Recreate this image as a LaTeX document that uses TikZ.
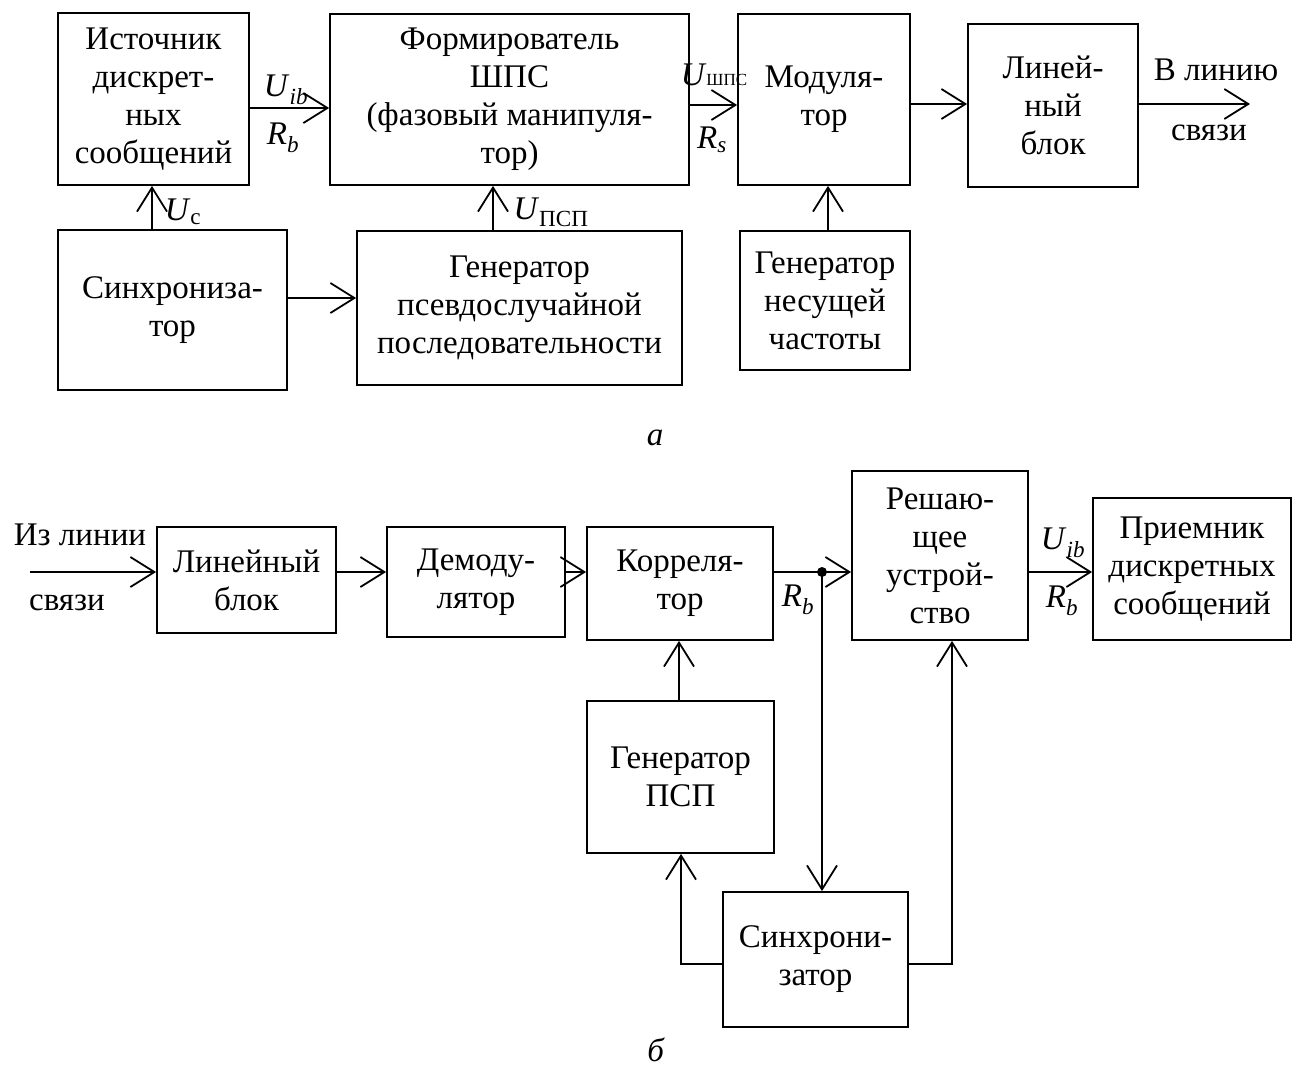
\documentclass[tikz,border=0pt]{standalone}
\usepackage{fontspec}
\setmainfont{Liberation Serif}
\usetikzlibrary{arrows.meta}
\begin{document}
\begin{tikzpicture}[x=1pt,y=-1pt,
  every node/.style={font=\fontsize{33}{38}\selectfont},
  blk/.style={draw,line width=1.8pt,inner sep=0pt,align=center},
  lbl/.style={inner sep=0pt},
  wire/.style={line width=1.8pt},
  arr/.style={wire,-{Straight Barb[length=24pt,width=30pt,line width=1.8pt]}}]
\useasboundingbox (0,0) rectangle (1298,1071);
% box: name, left, top, right, bottom, text
\newcommand\blockbox[6]{%
  \node[blk,minimum width=#4-#2,minimum height=#5-#3] (#1) at ({(#2+#4)/2},{(#3+#5)/2}) {#6};}
\newcommand\sub[1]{\textsubscript{#1}}
% ---- transmitter ----
\blockbox{src}{58}{13}{249}{185}{Источник\\дискрет-\\ных\\сообщений}
\blockbox{form}{330}{14}{689}{185}{Формирователь\\ШПС\\(фазовый манипуля-\\тор)}
\blockbox{mod}{738}{14}{910}{185}{Модуля-\\тор}
\blockbox{lin}{968}{24}{1138}{187}{Линей-\\ный\\блок}
\blockbox{sync}{58}{230}{287}{390}{Синхрониза-\\тор}
\blockbox{gen}{357}{231}{682}{385}{Генератор\\псевдослучайной\\последовательности}
\blockbox{car}{740}{231}{910}{370}{Генератор\\несущей\\частоты}
\coordinate (out) at (1250,104);
\draw[arr] (src.east |- 0,108) -- (form.west |- 0,108);
\draw[arr] (form.east |- 0,105) -- (mod.west |- 0,105);
\draw[arr] (mod.east |- 0,104) -- (lin.west |- 0,104);
\draw[arr] (lin.east |- out) -- (out);
\draw[arr] (sync.north -| 152,0) -- (src.south -| 152,0);
\draw[arr] (sync.east |- 0,298) -- (gen.west |- 0,298);
\draw[arr] (gen.north -| 493,0) -- (form.south -| 493,0);
\draw[arr] (car.north -| 828,0) -- (mod.south -| 828,0);
\node[lbl] (l1) at (286,90) {\textit{U}\sub{\textit{ib}}};
\node[lbl] (l2) at (283,138) {\textit{R}\sub{\textit{b}}};
\node[lbl] (l3) at (714,75) {\textit{U}{\fontsize{17}{20}\selectfont ШПС}};
\node[lbl] (l4) at (712,140) {\textit{R}\sub{\textit{s}}};
\node[lbl] (l5) at (183,212) {\textit{U}\sub{c}};
\node[lbl] (l6) at (551,212) {\textit{U}\sub{ПСП}};
\node[lbl] (l7) at (1216,70) {В линию};
\node[lbl] (l8) at (1209,133) {связи};
\node[lbl] (capa) at (655,438) {\textit{a}};
% ---- receiver ----
\blockbox{lin2}{157}{527}{336}{633}{Линейный\\блок}
\blockbox{dem}{387}{527}{565}{637}{Демоду-\\лятор}
\blockbox{corr}{587}{527}{773}{640}{Корреля-\\тор}
\blockbox{dec}{852}{471}{1028}{640}{Решаю-\\щее\\устрой-\\ство}
\blockbox{recv}{1093}{498}{1291}{640}{Приемник\\дискретных\\сообщений}
\blockbox{gen2}{587}{701}{774}{853}{Генератор\\ПСП}
\blockbox{sync2}{723}{892}{908}{1027}{Синхрони-\\затор}
\coordinate (in) at (30,572);
\coordinate (jn) at (822,572);
\draw[arr] (in) -- (lin2.west |- in);
\draw[arr] (lin2.east |- in) -- (dem.west |- in);
\draw[arr] (dem.east |- in) -- (corr.west |- in);
\draw[arr] (corr.east |- in) -- (dec.west |- in);
\draw[arr] (dec.east |- in) -- (recv.west |- in);
\fill (jn) circle (5);
\draw[arr] (jn) -- (sync2.north -| jn);
\draw[arr] (gen2.north -| 679,0) -- (corr.south -| 679,0);
\draw[arr] (sync2.west |- 0,964) -| (gen2.south -| 681,0);
\draw[arr] (sync2.east |- 0,964) -| (dec.south -| 952,0);
\node[lbl] (m1) at (80,535) {Из линии};
\node[lbl] (m2) at (67,603) {связи};
\node[lbl] (m3) at (798,600) {\textit{R}\sub{\textit{b}}};
\node[lbl] (m4) at (1063,543) {\textit{U}\sub{\textit{ib}}};
\node[lbl] (m5) at (1062,601) {\textit{R}\sub{\textit{b}}};
\node[lbl] (capb) at (656,1050) {\textit{б}};
\end{tikzpicture}
\end{document}
